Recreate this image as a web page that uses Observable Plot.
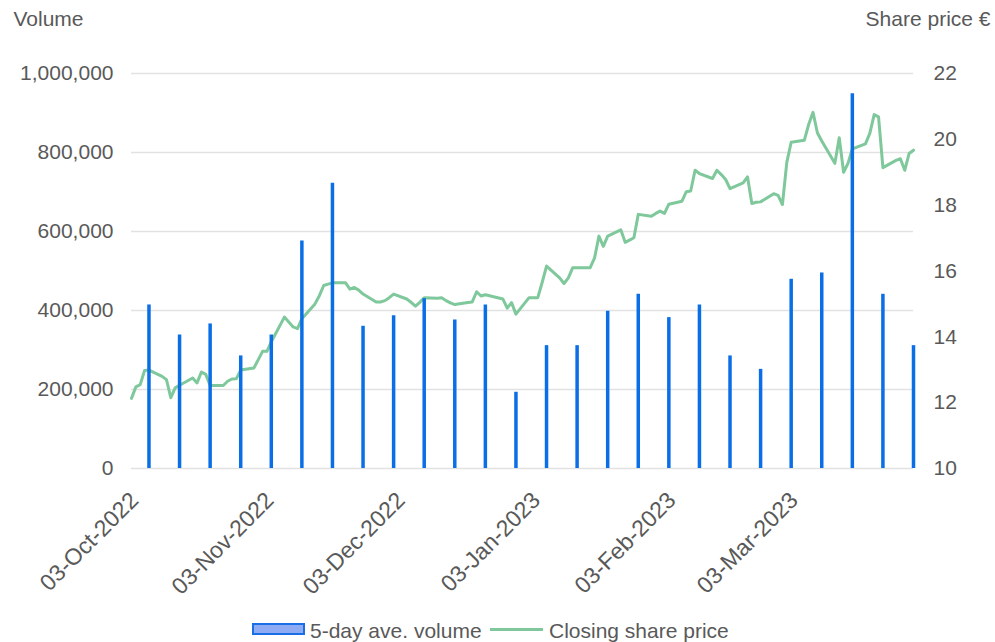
<!DOCTYPE html>
<html><head><meta charset="utf-8">
<script src="https://cdn.jsdelivr.net/npm/d3@7"></script>
<script src="https://cdn.jsdelivr.net/npm/@observablehq/plot@0.6"></script>
<style>
body{margin:0;background:#fff;font-family:"Liberation Sans",Arial,sans-serif;}
#wrap{position:relative;width:995px;height:642px;overflow:hidden;background:#fff;}
.lg{position:absolute;font-size:21px;color:#595959;line-height:24px;white-space:nowrap;}
</style></head><body><div id="wrap"></div>
<script>
const volumeTitle = "Volume";
const priceTitle = "Share price €";
const legendLabels = ["5-day ave. volume", "Closing share price"];

const barDates = ["2022-10-07","2022-10-14","2022-10-21","2022-10-28","2022-11-04","2022-11-11","2022-11-18","2022-11-25","2022-12-02","2022-12-09","2022-12-16","2022-12-23","2022-12-30","2023-01-06","2023-01-13","2023-01-20","2023-01-27","2023-02-03","2023-02-10","2023-02-17","2023-02-24","2023-03-03","2023-03-10","2023-03-17","2023-03-24","2023-03-31"];
const barVolumes = [414000,338000,366000,285000,338000,576000,722000,360000,387000,430000,376000,414000,193000,311000,311000,398000,441000,382000,414000,285000,251000,479000,495000,949000,441000,311000];

const priceDates = ["2022-10-03","2022-10-04","2022-10-05","2022-10-06","2022-10-07","2022-10-10","2022-10-11","2022-10-12","2022-10-13","2022-10-14","2022-10-17","2022-10-18","2022-10-19","2022-10-20","2022-10-21","2022-10-24","2022-10-25","2022-10-26","2022-10-27","2022-10-28","2022-10-31","2022-11-01","2022-11-02","2022-11-03","2022-11-04","2022-11-07","2022-11-08","2022-11-09","2022-11-10","2022-11-11","2022-11-14","2022-11-15","2022-11-16","2022-11-17","2022-11-18","2022-11-21","2022-11-22","2022-11-23","2022-11-24","2022-11-25","2022-11-28","2022-11-29","2022-11-30","2022-12-01","2022-12-02","2022-12-05","2022-12-06","2022-12-07","2022-12-08","2022-12-09","2022-12-12","2022-12-13","2022-12-14","2022-12-15","2022-12-16","2022-12-19","2022-12-20","2022-12-21","2022-12-22","2022-12-23","2022-12-27","2022-12-28","2022-12-29","2022-12-30","2023-01-02","2023-01-03","2023-01-04","2023-01-05","2023-01-06","2023-01-09","2023-01-10","2023-01-11","2023-01-12","2023-01-13","2023-01-16","2023-01-17","2023-01-18","2023-01-19","2023-01-20","2023-01-23","2023-01-24","2023-01-25","2023-01-26","2023-01-27","2023-01-30","2023-01-31","2023-02-01","2023-02-02","2023-02-03","2023-02-06","2023-02-07","2023-02-08","2023-02-09","2023-02-10","2023-02-13","2023-02-14","2023-02-15","2023-02-16","2023-02-17","2023-02-20","2023-02-21","2023-02-22","2023-02-23","2023-02-24","2023-02-27","2023-02-28","2023-03-01","2023-03-02","2023-03-03","2023-03-06","2023-03-07","2023-03-08","2023-03-09","2023-03-10","2023-03-13","2023-03-14","2023-03-15","2023-03-16","2023-03-17","2023-03-20","2023-03-21","2023-03-22","2023-03-23","2023-03-24","2023-03-27","2023-03-28","2023-03-29","2023-03-30","2023-03-31"];
const prices = [12.13,12.48,12.55,12.98,12.99,12.80,12.70,12.15,12.45,12.53,12.75,12.60,12.93,12.86,12.52,12.52,12.65,12.72,12.73,12.99,13.05,13.30,13.56,13.56,13.85,14.60,14.45,14.30,14.25,14.55,15.00,15.25,15.56,15.60,15.64,15.64,15.45,15.50,15.42,15.30,15.06,15.06,15.10,15.19,15.30,15.15,15.05,14.93,15.05,15.19,15.17,15.19,15.10,15.03,14.98,15.04,15.06,15.37,15.24,15.28,15.15,14.87,15.04,14.69,15.19,15.19,15.19,15.65,16.15,15.79,15.62,15.79,16.10,16.10,16.10,16.40,17.06,16.75,17.06,17.25,16.87,16.94,17.01,17.72,17.66,17.75,17.82,17.75,18.03,18.12,18.41,18.43,19.06,18.96,18.81,19.06,18.93,18.78,18.50,18.68,18.86,18.05,18.09,18.10,18.35,18.30,18.02,19.30,19.91,19.97,20.45,20.82,20.20,19.95,19.27,20.05,19.00,19.27,19.71,19.86,20.18,20.75,20.68,19.14,19.36,19.41,19.06,19.57,19.67];

const xDomain = ["2022-10-03", "2023-03-31"];
const xTicks = ["2022-10-03","2022-11-03","2022-12-03","2023-01-03","2023-02-03","2023-03-03"];
const volumeTicks = [0, 200000, 400000, 600000, 800000, 1000000];
const priceTicks = [10, 12, 14, 16, 18, 20, 22];

const pMin = 10, pMax = 22, vMax = 1000000;
const toV = p => (p - pMin) / (pMax - pMin) * vMax;
const fromV = v => pMin + v / vMax * (pMax - pMin);
const parse = d3.utcParse("%Y-%m-%d");
const bars = barDates.map((d, i) => ({date: parse(d), volume: barVolumes[i]}));
const line = priceDates.map((d, i) => ({date: parse(d), price: prices[i]}));

const FONT = '"Liberation Sans", Arial, sans-serif';
const chart = Plot.plot({
  width: 995, height: 618,
  marginLeft: 131, marginRight: 82, marginTop: 73, marginBottom: 150,
  style: {fontFamily: FONT, fontSize: "21px", color: "#595959", background: "#fff", overflow: "visible"},
  x: {type: "utc", domain: xDomain.map(parse)},
  y: {domain: [0, vMax]},
  marks: [
    Plot.gridY(volumeTicks, {stroke: "#e2e2e2", strokeOpacity: 1, strokeWidth: 1.5}),
    Plot.axisY(volumeTicks, {anchor: "left", tickSize: 0, tickPadding: 18, tickFormat: d3.format(","), label: null}),
    Plot.axisY(priceTicks.map(toV), {anchor: "right", tickSize: 0, tickPadding: 20, tickFormat: v => String(Math.round(fromV(v))), label: null}),
    Plot.axisX(xTicks.map(parse), {anchor: "bottom", tickSize: 0, tickPadding: 28, dx: 3, tickRotate: -45, fontSize: 23, tickFormat: d3.utcFormat("%d-%b-%Y"), label: null}),
    Plot.line(line, {x: "date", y: d => toV(d.price), stroke: "#7ec89b", strokeWidth: 3}),
    Plot.ruleX(bars, {x: "date", y1: 0, y2: "volume", stroke: "#0a6fe6", strokeWidth: 3.5}),
    Plot.text([volumeTitle], {text: d => d, frameAnchor: "top-left", dx: -118, dy: -62, textAnchor: "start", fill: "#595959"}),
    Plot.text([priceTitle], {text: d => d, frameAnchor: "top-right", dx: 77, dy: -62, textAnchor: "end", fill: "#595959"})
  ]
});
const wrap = document.getElementById("wrap");
wrap.appendChild(chart);

function addEl(style, text) {
  const el = document.createElement("div");
  el.className = text ? "lg" : "";
  el.style.cssText += style;
  if (text) el.textContent = text;
  wrap.appendChild(el);
}
addEl("position:absolute;left:252px;top:623px;width:53px;height:12px;box-sizing:border-box;background:#8eabf4;border:2px solid #1a6ee6;");
addEl("left:310px;top:619px;", legendLabels[0]);
addEl("position:absolute;left:490px;top:628px;width:53px;height:3px;background:#7ec89b;");
addEl("left:549px;top:619px;", legendLabels[1]);
</script></body></html>
